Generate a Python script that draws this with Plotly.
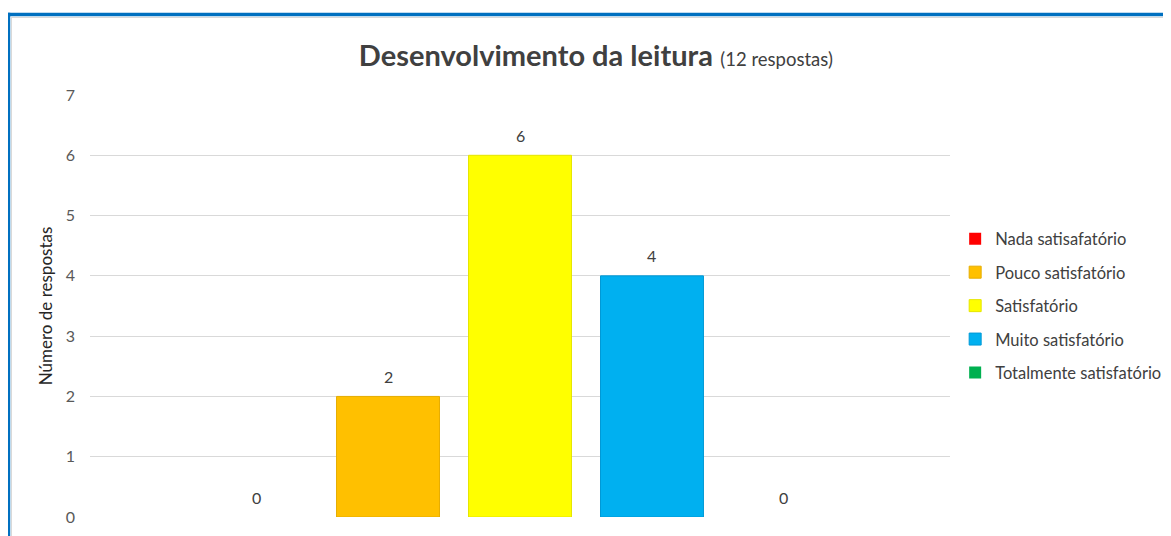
import plotly.graph_objects as go

series = ["Nada satisafatório", "Pouco satisfatório", "Satisfatório", "Muito satisfatório", "Totalmente satisfatório"]
values = [0, 2, 6, 4, 0]
colors = ["#FF0000", "#FFC000", "#FFFF00", "#00B0F0", "#00B050"]
edge_colors = ["#E00000", "#E6AD00", "#E6E600", "#0099D6", "#009940"]
positions = [0, 1, 2, 3, 4]
y_ticks = [0, 1, 2, 3, 4, 5, 6, 7]

FONT = "Lato, 'Open Sans', sans-serif"

fig = go.Figure()
for i, (name, v, c, ec, p) in enumerate(zip(series, values, colors, edge_colors, positions)):
    fig.add_trace(go.Bar(
        x=[p], y=[v], name=name, width=0.78,
        marker=dict(color=c, line=dict(color=ec, width=1 if v > 0 else 0)),
        legendgroup=f"g{i}",
    ))

annotations = [
    dict(x=p, y=v, xref="x", yref="y", text=str(v), showarrow=False,
         yanchor="middle", yshift=20, font=dict(size=16, color="#404040"))
    for p, v in zip(positions, values)
]

fig.update_layout(
    width=1171, height=536,
    margin=dict(l=82, r=229, t=87, b=27),
    paper_bgcolor="white", plot_bgcolor="white",
    font=dict(family=FONT, color="#595959", size=16),
    title=dict(
        text="<b>Desenvolvimento da leitura</b> <span style='font-size:18.5px'>(12 respostas)</span>",
        font=dict(size=29, color="#404040", family=FONT),
        x=0.502, xanchor="center", y=0.91, yanchor="middle", xref="container", yref="container",
    ),
    xaxis=dict(range=[-1.258, 5.258], showticklabels=False, showgrid=False, zeroline=False,
               showline=False, ticks="", fixedrange=True),
    yaxis=dict(
        range=[0, 7], tickvals=y_ticks, showgrid=True, gridcolor="#D9D9D9", gridwidth=1,
        zeroline=False, showline=False, ticks="", ticklabelstandoff=14,
        tickfont=dict(size=16, color="#595959"),
        title=dict(text="Número de respostas", font=dict(size=17, color="#262626"), standoff=8),
    ),
    legend=dict(
        x=1.006, y=0.5, xanchor="left", yanchor="middle",
        font=dict(size=16.5, color="#404040"),
        traceorder="grouped", tracegroupgap=9, itemwidth=30,
        bgcolor="rgba(0,0,0,0)",
    ),
    annotations=annotations,
    shapes=[
        dict(type="line", xref="paper", yref="paper", x0=(11.5-90)/860, x1=(11.5-90)/860,
             y0=-0.2, y1=(517-17)/422, line=dict(color="#D9D9D9", width=1)),
        dict(type="line", xref="paper", yref="paper", x0=(11.5-90)/860, x1=1.4,
             y0=(517-17.5)/422, y1=(517-17.5)/422, line=dict(color="#D9D9D9", width=1)),
        dict(type="line", xref="paper", yref="paper", x0=(8.5-90)/860, x1=(8.5-90)/860,
             y0=-0.2, y1=(517-12.7)/422, line=dict(color="#0070C0", width=3.5)),
        dict(type="line", xref="paper", yref="paper", x0=(6.8-90)/860, x1=1.4,
             y0=(517-14.5)/422, y1=(517-14.5)/422, line=dict(color="#0070C0", width=3.5)),
    ],
)

fig.write_html("out.html")
